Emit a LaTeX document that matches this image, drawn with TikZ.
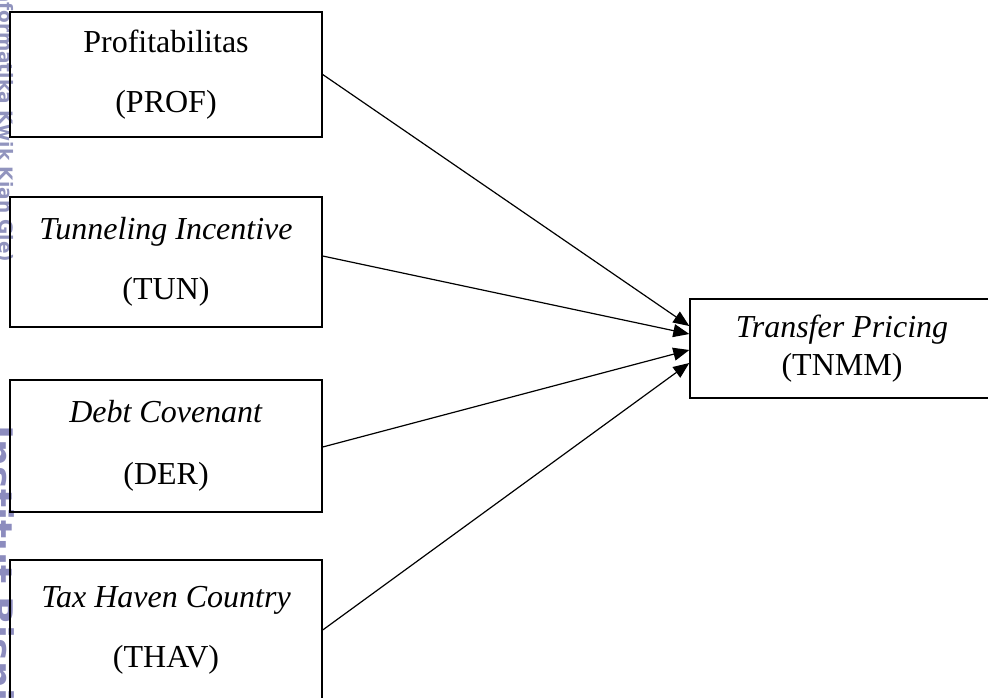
\documentclass[tikz,border=0pt]{standalone}
\usepackage{fontspec}
\setmainfont{Liberation Serif}
\newfontfamily\wmfont{DejaVu Sans}
\usetikzlibrary{arrows.meta}
\definecolor{wmA}{RGB}{145,148,190}
\definecolor{wmB}{RGB}{140,140,190}
\tikzset{
  box/.style={draw, line width=1.4pt, inner sep=0pt, align=center,
    font=\fontsize{32}{60}\selectfont, minimum width=312pt},
  arr/.style={line width=1.2pt, -{Triangle[length=16pt,width=13pt]}},
  wmark/.style={rotate=-90, anchor=base west, inner sep=0pt}
}
\begin{document}
\begin{tikzpicture}[x=1pt,y=-1pt]
\useasboundingbox (0,0) rectangle (988,697);
\clip (0,0) rectangle (988,697);
\fill[white] (0,0) rectangle (988,697);
% watermark
\node[wmark, text=wmA, font=\wmfont\bfseries\fontsize{18.5}{22}\selectfont] (wma) at (-1,-18) {Informatika Kwik Kian Gie)};
\node[wmark, text=wmB, font=\wmfont\bfseries\fontsize{38}{44}\selectfont] (wmb) at (-14,425) {Institut Bisnis dan};
% boxes
\node[box, minimum height=125pt] (prof) at (166,74.5) {Profitabilitas\\(PROF)};
\node[box, minimum height=130pt] (tun) at (166,262) {\textit{Tunneling Incentive}\\(TUN)};
\node[box, minimum height=132pt, font=\fontsize{32}{62}\selectfont] (der) at (166,446) {\textit{Debt Covenant}\\(DER)};
\node[box, minimum height=140pt] (thav) at (166,630) {\textit{Tax Haven Country}\\(THAV)};
\node[box, minimum width=304pt, minimum height=99pt, font=\fontsize{32}{38}\selectfont] (tp) at (842,348.5) {\textit{Transfer Pricing}\\(TNMM)};
% arrows
\draw[arr] (prof.east) -- ([yshift=22.5pt]tp.west);
\draw[arr] ([yshift=6pt]tun.east) -- ([yshift=14.5pt]tp.west);
\draw[arr] ([yshift=-1pt]der.east) -- ([yshift=-1.5pt]tp.west);
\draw[arr] (thav.east) -- ([yshift=-14.5pt]tp.west);
\end{tikzpicture}
\end{document}
